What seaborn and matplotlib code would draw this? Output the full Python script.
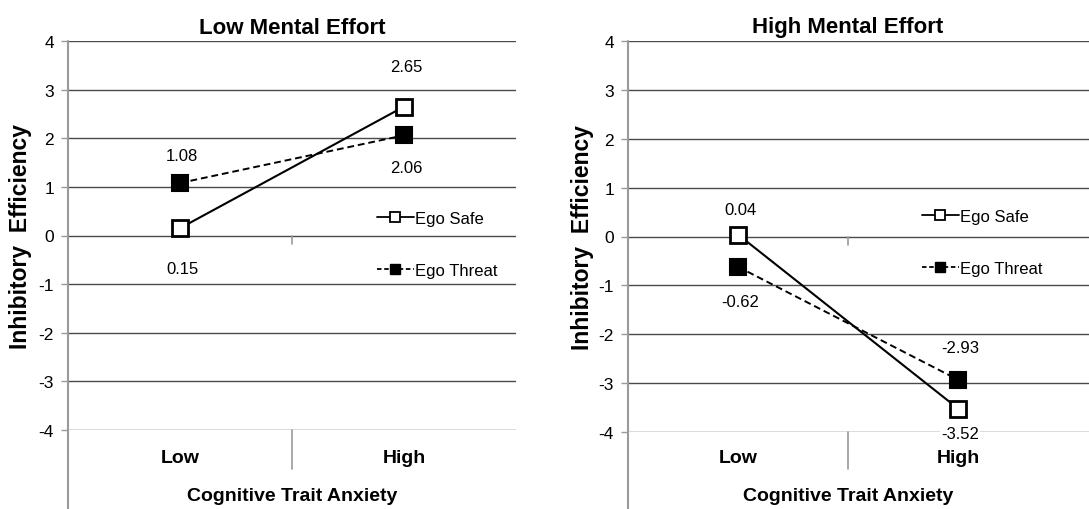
import matplotlib
matplotlib.use('Agg')
import matplotlib.pyplot as plt
import matplotlib.transforms as mtransforms
from matplotlib.lines import Line2D
import seaborn as sns
import pandas as pd

# ---------------- data ----------------
categories = ['Low', 'High']
low_effort_safe = [0.15, 2.65]
low_effort_threat = [1.08, 2.06]
high_effort_safe = [0.04, -3.52]
high_effort_threat = [-0.62, -2.93]
series_names = ['Ego Safe', 'Ego Threat']
panel_titles = ['Low Mental Effort', 'High Mental Effort']
y_ticks = [-4, -3, -2, -1, 0, 1, 2, 3, 4]
y_label = 'Inhibitory  Efficiency'
x_label = 'Cognitive Trait Anxiety'

# label offsets (points) for the value labels: [safe, threat] per category
low_offsets = {'safe': [-29, 29], 'threat': [20, -23]}
high_offsets = {'safe': [18, -18], 'threat': [-25, 23]}

sns.set_style('white')
plt.rcParams['font.family'] = ['Liberation Sans', 'DejaVu Sans']
plt.rcParams['text.color'] = 'black'
plt.rcParams['axes.labelcolor'] = 'black'
plt.rcParams['xtick.color'] = 'black'
plt.rcParams['ytick.color'] = 'black'

fig = plt.figure(figsize=(10.89, 5.10), dpi=100)
W, H = 1089, 510

# axes rectangles in pixels: left, top, right, bottom
rects = [(68, 42, 516, 431), (628, 42, 1089, 433)]
axes = []
for (l, t, r, b) in rects:
    ax = fig.add_axes([l / W, 1 - b / H, (r - l) / W, (b - t) / H])
    axes.append(ax)

GRID = '#4a4a4a'
AXC = '#9a9a9a'

panels = [
    (low_effort_safe, low_effort_threat, low_offsets),
    (high_effort_safe, high_effort_threat, high_offsets),
]

for k, (ax, (safe, threat, offs)) in enumerate(zip(axes, panels)):
    l, t, r, b = rects[k]
    unit_px = 224 if k == 0 else 220
    xmax = -0.5 + (r - l) / unit_px
    df_safe = pd.DataFrame({'cat': categories, 'val': safe})
    df_thr = pd.DataFrame({'cat': categories, 'val': threat})
    sns.lineplot(data=df_thr, x='cat', y='val', ax=ax, sort=False, legend=False,
                 color='black', lw=1.4, linestyle=(0, (3.5, 2)), marker='s',
                 markersize=11.5, markerfacecolor='black', markeredgecolor='black',
                 markeredgewidth=1.5, zorder=4)
    sns.lineplot(data=df_safe, x='cat', y='val', ax=ax, sort=False, legend=False,
                 color='black', lw=1.5, linestyle='-', marker='s',
                 markersize=11.5, markerfacecolor='white', markeredgecolor='black',
                 markeredgewidth=2.0, zorder=5)

    ax.set_xlim(-0.5, xmax)
    ax.set_ylim(-4, 4)
    ax.set_yticks(y_ticks)
    ax.set_yticklabels([str(v) for v in y_ticks], fontsize=12.5)
    ax.set_xticks([0, 1])
    ax.set_xticklabels(categories, fontsize=14, fontweight='bold')
    ax.tick_params(axis='x', length=0, pad=14 if k == 0 else 12, labelcolor='black')
    ax.tick_params(axis='y', length=5, width=1, color=AXC, pad=5, direction='out',
                   left=True, labelcolor='black')
    ax.set_xlabel('')
    ax.set_ylabel('')
    for s in ax.spines.values():
        s.set_visible(False)
    ax.yaxis.grid(True, color=GRID, lw=1.0)
    ax.xaxis.grid(False)
    ax.set_axisbelow(True)

    hpx = b - t
    # vertical axis line extending to bottom of figure
    ax.axvline(-0.5, ymin=-(H - b) / hpx, ymax=1, color=AXC, lw=1.5, clip_on=False, zorder=3)
    # category separator below plot
    ax.axvline(0.5, ymin=-(470 - b) / hpx, ymax=0, color=AXC, lw=1.2, clip_on=False, zorder=3)
    # small tick on the zero line
    ax.axvline(0.5, ymin=0.5 - 8 / hpx, ymax=0.5, color=AXC, lw=1.2, zorder=3)

    # value labels
    for i in range(2):
        ax.annotate(f'{safe[i]:.2f}', (i, safe[i]), xytext=(1.5, offs['safe'][i]),
                    textcoords='offset points', ha='center', va='center', fontsize=12,
                    zorder=6,
                    bbox=dict(facecolor='white', edgecolor='none', pad=0.5) if (k == 1 and i == 1) else None)
        ax.annotate(f'{threat[i]:.2f}', (i, threat[i]), xytext=(1.5, offs['threat'][i]),
                    textcoords='offset points', ha='center', va='center', fontsize=12, zorder=6)

    # title, axis labels
    trans = mtransforms.blended_transform_factory(ax.transData, ax.transAxes)
    ax.text(0.5, (b - 28) / hpx, panel_titles[k], transform=trans, ha='center', va='center',
            fontsize=16, fontweight='bold')
    ax.text(0.5, (b - 497) / hpx, x_label, transform=trans, ha='center', va='center',
            fontsize=14, fontweight='bold')
    ylx = 21 if k == 0 else 582
    ax.text(-(l - ylx) / (r - l), 0.5, y_label, transform=ax.transAxes, rotation=90,
            ha='center', va='center', fontsize=16.5, fontweight='bold')

    # legend
    handles = [
        Line2D([], [], color='black', lw=1.3, linestyle='-', marker='s', markersize=7,
               markerfacecolor='white', markeredgecolor='black', markeredgewidth=1.3),
        Line2D([], [], color='black', lw=1.3, linestyle=(0, (2.5, 1.5)), marker='s', markersize=7,
               markerfacecolor='black', markeredgecolor='black'),
    ]
    if k == 0:
        lx, ly = (377 - l) / (r - l), (b - 245.5) / hpx
    else:
        lx, ly = (922 - l) / (r - l), (b - 243.5) / hpx
    ax.legend(handles, series_names, loc='center left', bbox_to_anchor=(lx, ly),
              frameon=False, fontsize=12, handlelength=2.2, handletextpad=0.1,
              labelspacing=2.2, borderpad=0, borderaxespad=0)

fig.savefig('out.png', dpi=100, facecolor='white')
